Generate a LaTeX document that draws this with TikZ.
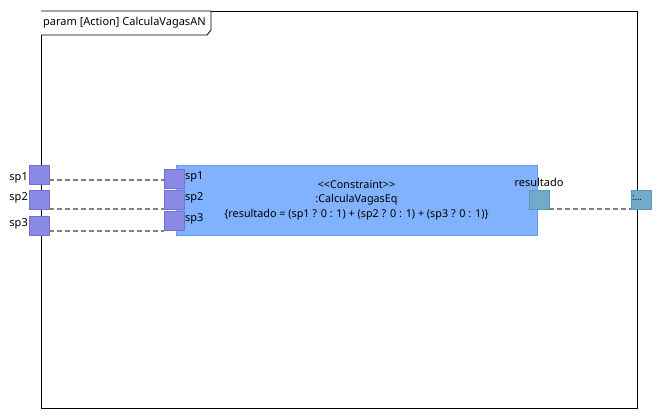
\documentclass[tikz,border=0pt]{standalone}
\usepackage{fontspec}
\setmainfont{Noto Sans}
\usetikzlibrary{positioning}
\definecolor{blockfill}{HTML}{80B2FF}
\definecolor{blockline}{HTML}{6A9AE0}
\definecolor{portfill}{HTML}{8A8AE6}
\definecolor{portline}{HTML}{7272CC}
\definecolor{resfill}{HTML}{72AACC}
\definecolor{resline}{HTML}{5E96B8}
\definecolor{linkgray}{HTML}{808080}

\begin{document}
\begin{tikzpicture}[x=1pt,y=-1pt,font=\fontsize{11}{13}\selectfont,
  port/.style={rectangle,draw=portline,fill=portfill,minimum width=20pt,
    minimum height=19pt,inner sep=0pt},
  resport/.style={rectangle,draw=resline,fill=resfill,minimum width=20pt,
    minimum height=19pt,inner sep=0pt},
  block/.style={rectangle,draw=blockline,fill=blockfill,minimum width=361pt,
    minimum height=70pt,align=center,inner sep=0pt,
    font=\fontsize{10.8}{14.5}\selectfont},
  link/.style={draw=linkgray,line width=1.6pt,dash pattern=on 5pt off 3pt},
  lbl/.style={inner sep=1pt}]

  \useasboundingbox (0,0) rectangle (661,420);

  % frame with title tab
  \draw[black,line width=0.8pt] (41,11) rectangle (637,408);
  \draw[black,line width=0.8pt,fill=white]
    (41,11) -- (211,11) -- (211,30) -- (207,35) -- (41,35);
  \node[lbl,anchor=west] (title) at (42,23) {param [Action] CalculaVagasAN};

  % constraint block
  \node[block] (eq) at (356.5,200) {<{}<Constraint>{}>\\:CalculaVagasEq\\
    \{resultado = (sp1 ? 0 : 1) + (sp2 ? 0 : 1) + (sp3 ? 0 : 1)\}};

  % ports of the block
  \node[port] (p1) at (174,178.5) {};
  \node[port] (p2) at (174,199.5) {};
  \node[port] (p3) at (174,220.5) {};
  \node[lbl,anchor=west] at (184,177) {sp1};
  \node[lbl,anchor=west] at (184,198) {sp2};
  \node[lbl,anchor=west] at (184,219) {sp3};
  \node[resport] (res) at (539,199.5) {};
  \node[lbl] at (539,182) {resultado};

  % parameters of the activity
  \node[port] (in1) at (39,174.5) {};
  \node[port] (in2) at (39,199.5) {};
  \node[port] (in3) at (39,225.5) {};
  \node[lbl,anchor=east] at (29,178) {sp1};
  \node[lbl,anchor=east] at (29,198) {sp2};
  \node[lbl,anchor=east] at (29,224) {sp3};
  \node[resport] (out) at (641,199.5) {};
  \node[lbl,anchor=west,font=\fontsize{9}{10}\selectfont] at (631,198) {:...};

  % bindings
  \path[link] (in1.east |- 0,180) -- (p1.west |- 0,180);
  \path[link] (in2.east |- 0,209) -- (p2.west |- 0,209);
  \path[link] (in3.east |- 0,231) -- (p3.west |- 0,231);
  \path[link] (res.east |- 0,209) -- (out.west |- 0,209);
\end{tikzpicture}
\end{document}
